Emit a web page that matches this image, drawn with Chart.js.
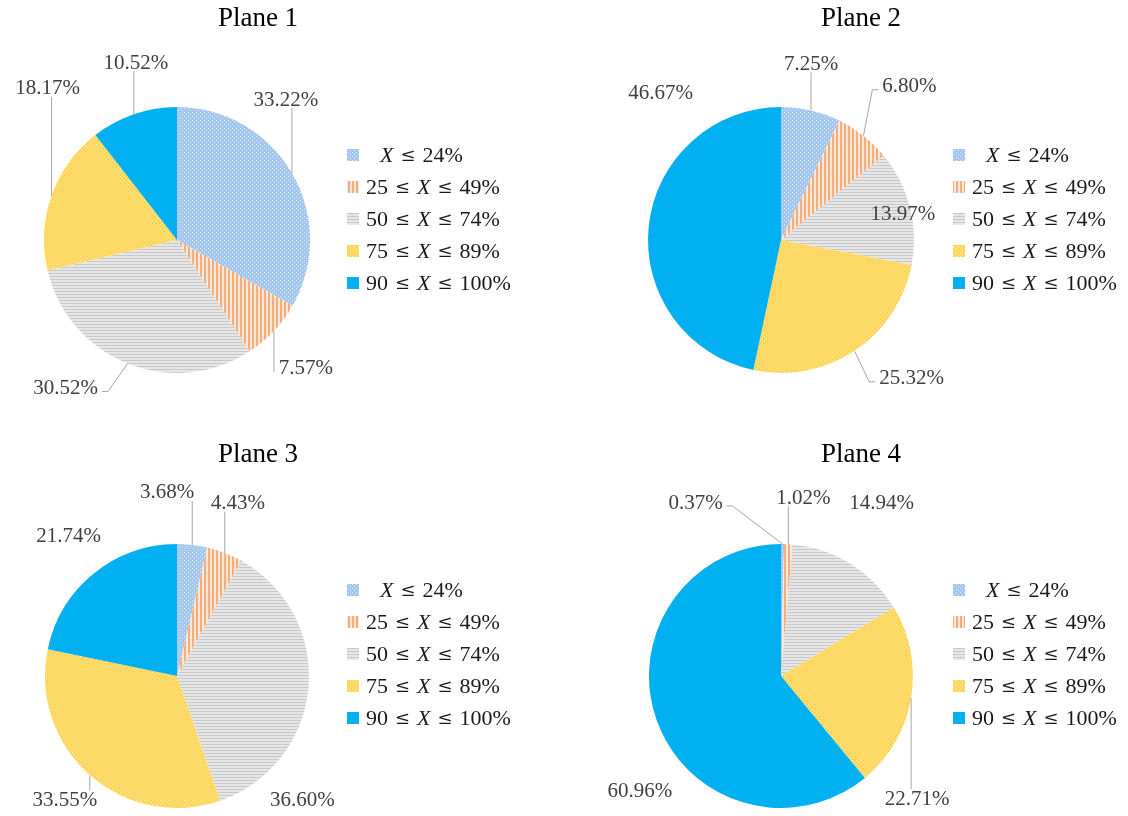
<!DOCTYPE html>
<html>
<head>
<meta charset="utf-8">
<script src="https://cdn.jsdelivr.net/npm/chart.js@4/dist/chart.umd.min.js"></script>
<style>
  html, body { margin: 0; padding: 0; background: #fff; }
  #wrap { position: relative; width: 1128px; height: 816px; }
  #wrap canvas { position: absolute; }
</style>
</head>
<body>
<div id="wrap">
  <canvas id="plane1" width="564" height="408" style="left:0;top:0"></canvas>
  <canvas id="plane2" width="564" height="408" style="left:564px;top:0"></canvas>
  <canvas id="plane3" width="564" height="408" style="left:0;top:408px"></canvas>
  <canvas id="plane4" width="564" height="408" style="left:564px;top:408px"></canvas>
</div>
<script>
// score bands, clockwise from 12 o'clock
const categories = ['X ≤ 24%', '25 ≤ X ≤ 49%', '50 ≤ X ≤ 74%', '75 ≤ X ≤ 89%', '90 ≤ X ≤ 100%'];
const titles = ['Plane 1', 'Plane 2', 'Plane 3', 'Plane 4'];

const plane1 = [33.22, 7.57, 30.52, 18.17, 10.52];
const plane2 = [7.25, 6.80, 13.97, 25.32, 46.67];
const plane3 = [3.68, 4.43, 36.60, 33.55, 21.74];
const plane4 = [0.37, 1.02, 14.94, 22.71, 60.96];

// label centre relative to the slice's outer mid point, and whether a leader is drawn
const labelOffsets1 = [[-6, -74], [32, 36], [-62, 24], [-4, -108], [2, -52]];
const labelOffsets2 = [[0, -47], [46, -50], [-7, 6], [57, 27], [12, -134]];
const labelOffsets3 = [[-25, -53], [13, -50], [-6, 112], [-25, 24], [-25, -38]];
const labelOffsets4 = [[-87, -42], [15, -47], [31, -61], [6, 100], [-17, 70]];
const leaders1 = [true, true, true, true, true];
const leaders2 = [true, true, true, true, false];
const leaders3 = [true, true, false, true, false];
const leaders4 = [true, true, false, true, false];

function make_pattern(w, h, draw) {
  const c = document.createElement('canvas');
  c.width = w;
  c.height = h;
  const g = c.getContext('2d');
  draw(g);
  return g.createPattern(c, 'repeat');
}

const fills = [
  // light blue, dotted
  make_pattern(4, 4, g => {
    g.fillStyle = '#a2c6ee'; g.fillRect(0, 0, 4, 4);
    g.fillStyle = '#e2eefa'; g.fillRect(0, 0, 1, 1); g.fillRect(2, 2, 1, 1);
  }),
  // orange, vertical lines
  make_pattern(4, 1, g => {
    g.fillStyle = '#fce6d6'; g.fillRect(0, 0, 4, 1);
    g.fillStyle = '#f4ae7e'; g.fillRect(0, 0, 2, 1);
  }),
  // grey, horizontal lines
  make_pattern(2, 3, g => {
    g.fillStyle = '#e6e6e6'; g.fillRect(0, 0, 2, 3);
    g.fillStyle = '#c8c8c8'; g.fillRect(0, 0, 2, 1);
  }),
  // yellow, dotted
  make_pattern(4, 4, g => {
    g.fillStyle = '#ffd659'; g.fillRect(0, 0, 4, 4);
    g.fillStyle = '#fff0c0';
    g.fillRect(0, 0, 1, 1); g.fillRect(2, 2, 1, 1);
  }),
  '#00b0f0'
];

const LABEL_FONT = '21px "Liberation Serif", "Times New Roman", serif';
const TITLE_FONT = '27px "Liberation Serif", "Times New Roman", serif';
const LEGEND_FONT = '22px "Liberation Serif", "Times New Roman", serif';
const LEGEND_ITALIC = 'italic 22px "Liberation Serif", "Times New Roman", serif';
const LEGEND_REL = '18px "DejaVu Serif", serif';

function draw_leader(ctx, ex, ey, box) {
  const inside = ex >= box.l - 2 && ex <= box.r + 2 && ey >= box.t - 2 && ey <= box.b + 2;
  if (inside) return;
  ctx.beginPath();
  if (ex >= box.l && ex <= box.r) {
    // straight up or down into the label
    ctx.moveTo(ex, ey);
    ctx.lineTo(ex, ey < box.t ? box.t : box.b);
  } else {
    const left = ex < box.l;
    const side = left ? box.l - 2 : box.r + 2;
    const ay = (box.t + box.b) / 2 + 4;
    let bx = left ? side - 6 : side + 6;
    if (Math.abs(ex - side) < 8) bx = ex;
    ctx.moveTo(ex, ey);
    ctx.lineTo(bx, ay);
    ctx.lineTo(side, ay);
  }
  ctx.stroke();
}

const piePlugin = {
  id: 'pieDecor',
  afterDraw(chart, args, opts) {
    const ctx = chart.ctx;
    const values = chart.data.datasets[0].data;
    ctx.save();

    // title
    ctx.font = TITLE_FONT;
    ctx.fillStyle = '#000';
    ctx.textAlign = 'center';
    ctx.textBaseline = 'middle';
    ctx.fillText(opts.title, opts.titleX, opts.titleY);

    // slice labels with leader lines
    ctx.font = LABEL_FONT;
    ctx.strokeStyle = '#a6a6a6';
    ctx.lineWidth = 1;
    chart.getDatasetMeta(0).data.forEach((arc, i) => {
      const p = arc.getProps(['x', 'y', 'startAngle', 'endAngle', 'outerRadius'], true);
      const mid = (p.startAngle + p.endAngle) / 2;
      const ex = p.x + Math.cos(mid) * p.outerRadius;
      const ey = p.y + Math.sin(mid) * p.outerRadius;
      const cx = ex + opts.offsets[i][0];
      const cy = ey + opts.offsets[i][1];
      const text = values[i].toFixed(2) + '%';
      const w = ctx.measureText(text).width;
      const box = { l: cx - w / 2 - 2, r: cx + w / 2 + 2, t: cy - 9, b: cy + 9 };
      if (opts.leaders[i]) draw_leader(ctx, ex, ey, box);
      ctx.fillStyle = '#404040';
      ctx.fillText(text, cx, cy + 1);
    });

    // legend: italic X, larger relation sign
    ctx.textAlign = 'left';
    chart.data.labels.forEach((label, i) => {
      const y = opts.legendY + i * 32;
      ctx.fillStyle = chart.data.datasets[0].backgroundColor[i];
      ctx.fillRect(opts.legendX, y - 6, 12, 12);
      const tokens = label.split(' ');
      let x = opts.legendX + 19 + (tokens.length < 5 ? 14 : 0);
      tokens.forEach(tok => {
        ctx.font = tok === 'X' ? LEGEND_ITALIC : (tok === '≤' ? LEGEND_REL : LEGEND_FONT);
        ctx.fillStyle = '#1a1a1a';
        ctx.fillText(tok, x, y + 1);
        x += ctx.measureText(tok).width + 7;
      });
    });
    ctx.restore();
  }
};

function make_chart(id, values, title, offsets, leaders, pad, titleX, titleY, legendX, legendY) {
  return new Chart(document.getElementById(id), {
    type: 'pie',
    data: {
      labels: categories,
      datasets: [{
        data: values,
        backgroundColor: fills,
        borderWidth: 0
      }]
    },
    options: {
      responsive: false,
      animation: false,
      devicePixelRatio: 1,
      layout: { padding: pad },
      plugins: {
        legend: { display: false },
        tooltip: { enabled: false },
        pieDecor: {
          title: title, titleX: titleX, titleY: titleY,
          offsets: offsets, leaders: leaders,
          legendX: legendX, legendY: legendY
        }
      }
    },
    plugins: [piePlugin]
  });
}

make_chart('plane1', plane1, titles[0], labelOffsets1, leaders1,
  { left: 44, top: 107, right: 254, bottom: 35 }, 258, 19, 347, 155);
make_chart('plane2', plane2, titles[1], labelOffsets2, leaders2,
  { left: 84, top: 107, right: 214, bottom: 35 }, 297, 19, 389, 155);
make_chart('plane3', plane3, titles[2], labelOffsets3, leaders3,
  { left: 45, top: 136, right: 255, bottom: 8 }, 258, 47, 347, 182);
make_chart('plane4', plane4, titles[3], labelOffsets4, leaders4,
  { left: 85, top: 136, right: 215, bottom: 8 }, 297, 47, 389, 182);
</script>
</body>
</html>
